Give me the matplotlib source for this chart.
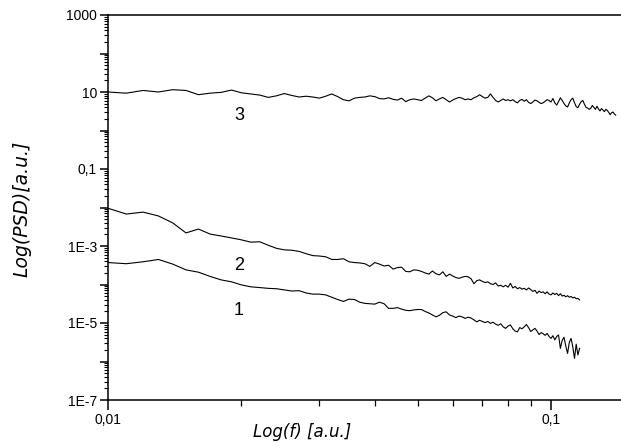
import numpy as np
import matplotlib
matplotlib.use('Agg')
import matplotlib.pyplot as plt
from matplotlib.ticker import FixedLocator, FixedFormatter, NullFormatter, LogLocator

plt.rcParams['font.family'] = ['Liberation Sans', 'DejaVu Sans']

# frequency grid (shared by the three spectra)
freq = [0.010, 0.011, 0.012, 0.013, 0.014, 0.015, 0.016, 0.017, 0.018, 0.019,
        0.020, 0.021, 0.022, 0.023, 0.024, 0.025, 0.026, 0.027, 0.028, 0.029,
        0.030, 0.031, 0.032, 0.033, 0.034, 0.035, 0.036, 0.037, 0.038, 0.039,
        0.040, 0.041, 0.042, 0.043, 0.044, 0.045, 0.046, 0.047, 0.048, 0.049,
        0.050, 0.051, 0.052, 0.053, 0.054, 0.055, 0.056, 0.057, 0.058, 0.059,
        0.060, 0.061, 0.062, 0.063, 0.064, 0.065, 0.066, 0.067, 0.068, 0.069,
        0.070, 0.071, 0.072, 0.073, 0.074, 0.075, 0.076, 0.077, 0.078, 0.079,
        0.080, 0.081, 0.082, 0.083, 0.084, 0.085, 0.086, 0.087, 0.088, 0.089,
        0.090, 0.091, 0.092, 0.093, 0.094, 0.095, 0.096, 0.097, 0.098, 0.099,
        0.100, 0.101, 0.102, 0.103, 0.104, 0.105, 0.106, 0.107, 0.108, 0.109,
        0.110, 0.111, 0.112, 0.113, 0.114, 0.115, 0.116, 0.117, 0.118, 0.119,
        0.120, 0.121, 0.122, 0.123, 0.124, 0.125, 0.126, 0.127, 0.128, 0.129,
        0.130, 0.131, 0.132, 0.133, 0.134, 0.135, 0.136, 0.137, 0.138, 0.139,
        0.140]

# log10 of the PSD
log_psd3 = [1.00, 0.97, 1.04, 1.00, 1.06, 1.04, 0.93, 0.97, 0.99, 1.05,
            0.98, 0.95, 0.92, 0.86, 0.90, 0.96, 0.91, 0.87, 0.89, 0.87,
            0.84, 0.89, 0.95, 0.88, 0.80, 0.77, 0.84, 0.86, 0.87, 0.90,
            0.88, 0.83, 0.82, 0.85, 0.81, 0.79, 0.84, 0.75, 0.80, 0.82,
            0.80, 0.78, 0.84, 0.90, 0.85, 0.77, 0.82, 0.86, 0.80, 0.74,
            0.79, 0.83, 0.86, 0.84, 0.80, 0.82, 0.80, 0.85, 0.88, 0.93,
            0.88, 0.84, 0.86, 0.95, 0.86, 0.78, 0.74, 0.78, 0.82, 0.78,
            0.80, 0.77, 0.80, 0.75, 0.72, 0.78, 0.81, 0.76, 0.80, 0.73,
            0.70, 0.74, 0.79, 0.77, 0.73, 0.70, 0.72, 0.76, 0.80, 0.78,
            0.74, 0.83, 0.72, 0.66, 0.75, 0.85, 0.78, 0.70, 0.64, 0.61,
            0.72, 0.80, 0.84, 0.72, 0.62, 0.59, 0.68, 0.75, 0.78, 0.68,
            0.60, 0.58, 0.55, 0.58, 0.65, 0.60, 0.55, 0.63, 0.56, 0.51,
            0.57, 0.53, 0.49, 0.55, 0.52, 0.47, 0.41, 0.46, 0.48, 0.43,
            0.40]

log_psd2 = [-2.02, -2.17, -2.12, -2.22, -2.40, -2.66, -2.56, -2.69, -2.74, -2.79,
            -2.84, -2.90, -2.89, -2.98, -3.06, -3.10, -3.11, -3.14, -3.20, -3.25,
            -3.26, -3.28, -3.35, -3.35, -3.33, -3.41, -3.43, -3.44, -3.46, -3.53,
            -3.43, -3.47, -3.52, -3.50, -3.60, -3.56, -3.55, -3.66, -3.67, -3.62,
            -3.63, -3.66, -3.70, -3.73, -3.65, -3.72, -3.75, -3.67, -3.79, -3.73,
            -3.78, -3.82, -3.84, -3.81, -3.79, -3.80, -3.85, -3.98, -3.90, -3.88,
            -3.92, -3.95, -3.93, -3.98, -4.00, -3.96, -4.04, -4.02, -4.06, -4.02,
            -4.07, -3.97, -4.09, -4.05, -4.11, -4.08, -4.12, -4.10, -4.14, -4.09,
            -4.13, -4.18, -4.15, -4.23, -4.17, -4.21, -4.19, -4.24, -4.19, -4.25,
            -4.27, -4.22, -4.26, -4.23, -4.29, -4.24, -4.30, -4.28, -4.32, -4.29,
            -4.33, -4.31, -4.35, -4.33, -4.37, -4.36, -4.40]

log_psd1 = [-3.43, -3.46, -3.41, -3.35, -3.47, -3.62, -3.68, -3.79, -3.88, -3.93,
            -4.01, -4.06, -4.08, -4.10, -4.11, -4.14, -4.17, -4.16, -4.22, -4.25,
            -4.25, -4.27, -4.33, -4.39, -4.44, -4.38, -4.39, -4.46, -4.49, -4.50,
            -4.51, -4.46, -4.50, -4.62, -4.62, -4.60, -4.64, -4.67, -4.68, -4.66,
            -4.65, -4.65, -4.70, -4.74, -4.79, -4.84, -4.80, -4.73, -4.71, -4.79,
            -4.82, -4.86, -4.82, -4.84, -4.88, -4.85, -4.87, -4.92, -4.97, -4.93,
            -4.96, -4.99, -4.96, -5.01, -4.98, -5.03, -5.06, -5.02, -5.10, -5.14,
            -5.08, -5.05, -5.15, -5.21, -5.23, -5.12, -5.15, -5.10, -5.04, -5.12,
            -5.22, -5.18, -5.14, -5.21, -5.30, -5.25, -5.28, -5.32, -5.27, -5.35,
            -5.40, -5.33, -5.44, -5.35, -5.31, -5.66, -5.45, -5.37, -5.60, -5.79,
            -5.50, -5.40, -5.62, -5.92, -5.55, -5.83, -5.66]

curve_names = ['1', '2', '3']
y_ticks = [1e-7, 1e-6, 1e-5, 1e-4, 1e-3, 1e-2, 1e-1, 1, 10, 100, 1000]
y_labels = ['1E-7', '', '1E-5', '', '1E-3', '', '0,1', '', '10', '', '1000']
x_ticks = [0.01, 0.1]
x_labels = ['0,01', '0,1']

fig = plt.figure(figsize=(6.21, 4.46), dpi=100)
W, H = 621, 446
ax = fig.add_axes([108 / W, 46 / H, 521 / W, 385 / H])

f = np.array(freq)
ax.plot(f[:len(log_psd1)], 10 ** np.array(log_psd1), color='black', lw=0.8)
ax.plot(f[:len(log_psd2)], 10 ** np.array(log_psd2), color='black', lw=0.8)
ax.plot(f[:len(log_psd3)], 10 ** np.array(log_psd3), color='black', lw=0.8)

ax.set_xscale('log')
ax.set_yscale('log')
ax.set_xlim(0.01, 0.15)
ax.set_ylim(1e-7, 1000)

ax.yaxis.set_major_locator(FixedLocator(y_ticks))
ax.yaxis.set_major_formatter(FixedFormatter(y_labels))
ax.yaxis.set_minor_locator(LogLocator(base=10, subs=np.arange(2, 10), numticks=100))
ax.xaxis.set_major_locator(FixedLocator(x_ticks))
ax.xaxis.set_major_formatter(FixedFormatter(x_labels))
ax.xaxis.set_minor_locator(LogLocator(base=10, subs=np.arange(2, 10), numticks=100))
ax.xaxis.set_minor_formatter(NullFormatter())
ax.yaxis.set_minor_formatter(NullFormatter())

ax.tick_params(which='major', direction='out', length=6, width=1.1,
               labelsize=10, pad=2)
ax.tick_params(axis='y', which='minor', direction='out', length=3, width=0.8)
ax.tick_params(axis='x', which='minor', direction='out', length=4, width=0.9)
ax.tick_params(axis='x', which='major', length=7)

for s in ['left', 'bottom', 'top']:
    ax.spines[s].set_linewidth(1.1)
ax.spines['right'].set_visible(False)

# curve numbers
ax.text(0.0198, 10 ** 0.4, curve_names[2], fontsize=13, ha='center', va='center')
ax.text(0.0198, 10 ** -3.5, curve_names[1], fontsize=13, ha='center', va='center')
ax.text(0.0197, 10 ** -4.68, curve_names[0], fontsize=13, ha='center', va='center')

fig.text(302 / W, 1 - 432 / H, 'Log(f) [a.u.]', fontsize=12, style='italic',
         ha='center', va='center', family='DejaVu Sans')
fig.text(22 / W, 1 - 209 / H, 'Log(PSD)[a.u.]', fontsize=13.5, style='italic',
         ha='center', va='center', rotation=90, family='DejaVu Sans')

fig.savefig('out.png', dpi=100)
